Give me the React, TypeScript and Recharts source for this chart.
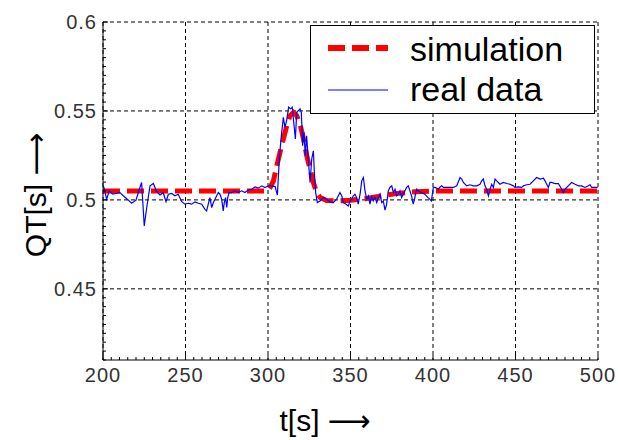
import { LineChart, Line, XAxis, YAxis, CartesianGrid, Legend } from 'recharts';

// simulation (red dashed)
const simT = [200, 300, 301.3, 303.3, 305.3, 307.3, 309.3, 311.4, 313.4, 315.4, 317.4, 319.4, 321.5, 323.5, 325.5, 327.5, 329.5, 331.6, 335.6, 343.7, 350, 360, 370, 380, 390, 400, 500];
const simQT = [0.505, 0.505, 0.507, 0.5107, 0.5192, 0.5267, 0.5342, 0.5417, 0.5474, 0.5492, 0.5474, 0.5427, 0.5342, 0.5248, 0.5173, 0.5098, 0.5041, 0.5013, 0.4996, 0.4995, 0.4998, 0.5008, 0.5025, 0.5038, 0.5046, 0.505, 0.505];

// real data (blue)
const realT = [
  200, 200.6, 202.2, 203.8, 205.9, 207.9, 210.3, 212.3, 214.7, 217.4, 220, 222, 223.4, 225, 226.5, 228.5, 230.5, 232.5, 234.5, 236.5,
  238.2, 239.6, 241.6, 243.6, 245.6, 247.7, 249.7, 251.7, 253.7, 255.8, 257.8, 259.8, 261.8, 262.8, 263.8, 264.8, 265.9, 266.9, 267.9, 268.9,
  269.9, 270.9, 271.9, 272.9, 273.5, 274.3, 275, 275.6, 276.4, 278, 280, 282, 284, 286, 288, 290.1, 292.1, 294.1, 296.2, 298.2,
  300.2, 302.3, 304.3, 305.7, 306.9, 308.1, 309.3, 310.3, 311.3, 312.5, 313.7, 314.7, 315.8, 316.6, 317.4, 318.4, 319.4, 320.2, 321, 321.8,
  322.6, 323.4, 324.4, 325.5, 326.5, 327.5, 328.1, 328.9, 329.9, 331.5, 333.5, 335.6, 337.6, 339.6, 341.6, 343.6, 344.7, 345.6, 347.3, 348.7,
  349.7, 350.7, 351.7, 352.7, 353.7, 354.7, 355.8, 356.8, 357.8, 358.8, 359.8, 360.8, 361.8, 362.8, 363.8, 364.8, 365.9, 366.9, 367.9, 368.9,
  369.9, 370.9, 371.9, 372.9, 373.9, 375, 376, 377, 378, 379, 380, 381, 382, 383, 384, 385, 386, 387, 388, 389,
  390, 391, 393, 395, 397, 398, 399, 400.2, 401.2, 402.2, 403.3, 404.3, 405.3, 406.3, 408.3, 410.3, 412.3, 414.4, 416.4, 417.4,
  418.4, 420.4, 422.4, 424.5, 426.5, 428.5, 429.5, 430.5, 431.5, 432.5, 433.6, 434.6, 435.6, 436.6, 437.6, 438.6, 440.6, 442.6, 444.7, 446.7,
  448.7, 449.7, 451.7, 453.7, 454.8, 456.8, 458.8, 460.8, 462.8, 464.9, 466.9, 467.9, 468.9, 469.9, 470.9, 471.9, 473.9, 476, 478, 479,
  480, 482, 484, 486.1, 488.1, 490.1, 492.1, 494.1, 495.2, 496.2, 498.2, 499.8,
];
const realQT = [
  0.5079, 0.5069, 0.5004, 0.5051, 0.5032, 0.5036, 0.5041, 0.5023, 0.5004, 0.4981, 0.4998, 0.506, 0.5098, 0.4853, 0.4957, 0.5079, 0.5092, 0.5047, 0.5028, 0.504,
  0.499, 0.5032, 0.5036, 0.5023, 0.5032, 0.499, 0.4976, 0.4981, 0.4976, 0.4989, 0.4981, 0.4976, 0.4947, 0.4938, 0.4976, 0.5013, 0.4957, 0.4985, 0.5004, 0.5023,
  0.5041, 0.5032, 0.5004, 0.4938, 0.4985, 0.5013, 0.4957, 0.5013, 0.5041, 0.5041, 0.5051, 0.5041, 0.5051, 0.5041, 0.5055, 0.506, 0.5073, 0.5066, 0.5079, 0.5069,
  0.5079, 0.5079, 0.5075, 0.5027, 0.5239, 0.5361, 0.5464, 0.5408, 0.5446, 0.5521, 0.5512, 0.5521, 0.5417, 0.5342, 0.5492, 0.5502, 0.5512, 0.5492, 0.5304, 0.538,
  0.5248, 0.5361, 0.523, 0.5098, 0.523, 0.5276, 0.5154, 0.5041, 0.4985, 0.4994, 0.5013, 0.5004, 0.4989, 0.4985, 0.5004, 0.5041, 0.5023, 0.4985, 0.4976, 0.4966,
  0.4994, 0.5004, 0.5023, 0.5032, 0.5013, 0.4976, 0.5032, 0.5107, 0.5126, 0.5051, 0.5004, 0.5023, 0.4976, 0.5023, 0.4994, 0.5013, 0.4985, 0.5013, 0.5032, 0.4985,
  0.4994, 0.4942, 0.4976, 0.5051, 0.507, 0.5079, 0.5041, 0.506, 0.5023, 0.5032, 0.5051, 0.5013, 0.5032, 0.5051, 0.507, 0.5079, 0.5051, 0.5023, 0.4976, 0.5013,
  0.506, 0.5051, 0.5041, 0.5032, 0.5013, 0.5004, 0.4994, 0.507, 0.507, 0.5066, 0.506, 0.5073, 0.5079, 0.507, 0.507, 0.507, 0.507, 0.5079, 0.5126, 0.5117,
  0.5098, 0.5079, 0.5085, 0.5079, 0.5079, 0.5088, 0.5107, 0.5117, 0.5079, 0.506, 0.5023, 0.506, 0.5088, 0.507, 0.5117, 0.5107, 0.5088, 0.5098, 0.5092, 0.5088,
  0.5079, 0.507, 0.5073, 0.507, 0.5079, 0.5085, 0.5088, 0.5107, 0.5126, 0.5117, 0.5122, 0.5107, 0.5088, 0.507, 0.5098, 0.5098, 0.5092, 0.5092, 0.506, 0.5041,
  0.506, 0.5079, 0.5098, 0.5088, 0.5079, 0.5079, 0.507, 0.5079, 0.5085, 0.507, 0.507, 0.507,
];

const xTicks = [200, 250, 300, 350, 400, 450, 500];
const xTickLabels = ['200', '250', '300', '350', '400', '450', '500'];
const yTicks = [0.45, 0.5, 0.55, 0.6];
const yTickLabels = ['0.45', '0.5', '0.55', '0.6'];

const simData = simT.map((t, i) => ({ t, qt: simQT[i] }));
const realData = realT.map((t, i) => ({ t, qt: realQT[i] }));

// minor ticks every 5 s / 0.005 s (MATLAB style, pointing inwards)
const xMinor: number[] = [];
for (let v = 200; v <= 500; v += 5) xMinor.push(v);
const yMinor: number[] = [];
for (let i = 0; i <= 38; i++) yMinor.push(Math.round((0.41 + i * 0.005) * 1000) / 1000);

const FONT = '"Liberation Sans", Arial, Helvetica, sans-serif';
const ARROW_FONT = '"DejaVu Sans", sans-serif';

const XTick = ({ x, y, payload }: any) => {
  const idx = xTicks.findIndex((t) => Math.abs(t - payload.value) < 1e-6);
  return (
    <g>
      <line x1={x} x2={x} y1={y} y2={y - (idx >= 0 ? 5 : 3)} stroke="#000" />
      {idx >= 0 && (
        <text x={x} y={y + 22} textAnchor="middle" fontSize={20} letterSpacing={1} fill="#333" fontFamily={FONT}>
          {xTickLabels[idx]}
        </text>
      )}
    </g>
  );
};

const YTick = ({ x, y, payload }: any) => {
  const idx = yTicks.findIndex((t) => Math.abs(t - payload.value) < 1e-6);
  return (
    <g>
      <line x1={x} x2={x + (idx >= 0 ? 5 : 3)} y1={y} y2={y} stroke="#000" />
      {idx >= 0 && (
        <text x={x - 6} y={y + 7} textAnchor="end" fontSize={20} letterSpacing={1} fill="#333" fontFamily={FONT}>
          {yTickLabels[idx]}
        </text>
      )}
    </g>
  );
};

const renderLegend = () => (
  <svg width={285} height={90} style={{ display: 'block' }}>
    <rect x={0.5} y={0.5} width={284} height={88} fill="#fff" stroke="#000" />
    <line x1={18} x2={78} y1={23} y2={23} stroke="#ff0000" strokeWidth={6} strokeDasharray="17 7" />
    <text x={100} y={36} fontSize={34} fontFamily={FONT} fill="#000">simulation</text>
    <line x1={18} x2={78} y1={65} y2={65} stroke="#0000ff" strokeWidth={1.2} />
    <text x={100} y={76} fontSize={34} fontFamily={FONT} fill="#000">real data</text>
  </svg>
);

export default function App() {
  return (
    <div style={{ position: 'absolute', left: 0, top: 0, width: 618, height: 440, background: '#fff' }}>
      <LineChart width={618} height={440} margin={{ top: 22, right: 20, left: 0, bottom: 0 }}>
        <CartesianGrid
          stroke="#000"
          strokeDasharray="4 3"
          horizontalValues={yTicks}
          verticalValues={xTicks}
        />
        <XAxis
          type="number"
          dataKey="t"
          domain={[200, 500]}
          ticks={xMinor}
          interval={0}
          allowDataOverflow
          height={80}
          tickSize={0}
          tickMargin={0}
          tickLine={false}
          axisLine={{ stroke: '#000' }}
          tick={<XTick />}
          label={{
            content: ({ viewBox }: any) => (
              <text x={viewBox.x + 222} y={viewBox.y + 71} textAnchor="middle" fontSize={30} fontFamily={FONT} fill="#000">
                t[s]
                <tspan dx={8} fontFamily={ARROW_FONT} fontSize={30}>⟶</tspan>
              </text>
            ),
          }}
        />
        <YAxis
          type="number"
          domain={[0.41, 0.6]}
          ticks={yMinor}
          interval={0}
          allowDataOverflow
          width={103}
          tickSize={0}
          tickMargin={0}
          tickLine={false}
          axisLine={{ stroke: '#000' }}
          tick={<YTick />}
          label={{
            content: ({ viewBox }: any) => (
              <text
                x={35}
                y={viewBox.y + 173}
                textAnchor="middle"
                dominantBaseline="central"
                fontSize={30}
                fontFamily={FONT}
                fill="#000"
                transform={`rotate(-90 35 ${viewBox.y + 173})`}
              >
                QT[s]
                <tspan dx={8} fontFamily={ARROW_FONT} fontSize={30}>⟶</tspan>
              </text>
            ),
          }}
        />
        <Legend
          layout="vertical"
          align="center"
          verticalAlign="middle"
          content={renderLegend}
          wrapperStyle={{ left: 310, top: 25, width: 285, height: 90 }}
        />
        <Line
          data={simData}
          dataKey="qt"
          name="simulation"
          type="linear"
          stroke="#ff0000"
          strokeWidth={5}
          strokeDasharray="17 7"
          dot={false}
          activeDot={false}
          isAnimationActive={false}
        />
        <Line
          data={realData}
          dataKey="qt"
          name="real data"
          type="linear"
          stroke="#0000ff"
          strokeWidth={1.2}
          dot={false}
          activeDot={false}
          isAnimationActive={false}
        />
      </LineChart>
    </div>
  );
}
